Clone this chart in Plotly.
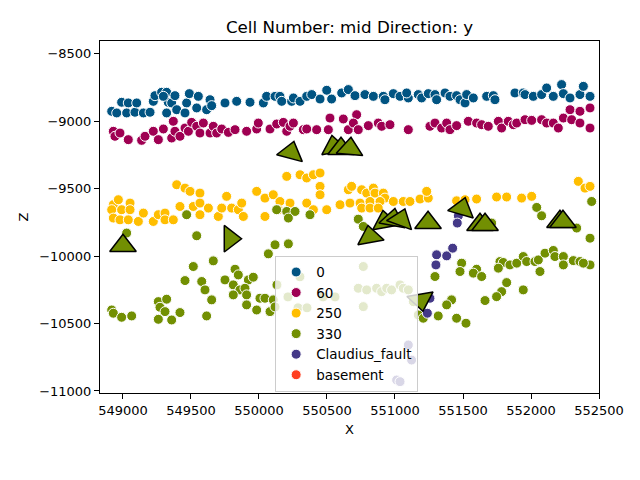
import plotly.graph_objects as go

# ---------------- data ----------------
s0_x = [548917,548990,548954,549039,549027,549088,549101,549150,549199,549223,549235,549284,549321,549333,549297,
        549358,549382,549321,549395,549468,549488,549456,549554,549542,549615,549640,549652,549750,549836,549934,
        550032,550056,550118,550154,550167,550240,550253,550302,550351,550388,550449,550498,550534,550608,550657,
        550706,550779,550841,550914,550926,550988,551037,551098,551086,551171,551196,551245,551294,551306,551368,
        551404,551453,551478,551515,551527,551576,551674,551723,551735,551882,551943,551956,552017,552078,552115,
        552164,552225,552238,552287,552360,552385,552434]
s0_z = [-8928,-8861,-8940,-8866,-8940,-8935,-8866,-8940,-8935,-8854,-8812,-8787,-8787,-8861,-8817,
        -8866,-8812,-8940,-8916,-8866,-8797,-8940,-8817,-8903,-8916,-8842,-8886,-8866,-8854,-8861,
        -8866,-8817,-8817,-8817,-8854,-8854,-8829,-8854,-8817,-8804,-8837,-8772,-8837,-8792,-8767,
        -8812,-8804,-8817,-8817,-8842,-8797,-8817,-8829,-8792,-8804,-8829,-8797,-8804,-8842,-8792,
        -8817,-8812,-8842,-8866,-8804,-8829,-8817,-8812,-8842,-8792,-8792,-8804,-8817,-8804,-8755,
        -8817,-8730,-8797,-8829,-8804,-8743,-8817]

s60_x = [548929,548941,548978,549039,549137,549162,549223,549260,549297,549358,549370,549382,549419,549456,549481,
         549505,549542,549566,549591,549640,549664,549689,549726,549775,549824,549909,549983,549995,550081,550130,
         550179,550204,550228,550253,550326,550351,550424,550510,550522,550620,550657,
         550718,550694,550730,550804,550877,550902,550963,551098,551257,551294,551343,551380,551404,551453,551539,
         551600,551637,551686,551760,551784,551833,551870,551895,551956,552005,552078,552115,552164,552201,552238,
         552287,552299,552360,552360,552434,552434]
s60_z = [-9076,-9113,-9089,-9138,-9143,-9113,-9076,-9138,-9059,-9126,-9002,-9076,-9113,-9052,-9076,
         -9010,-9039,-9089,-9015,-9089,-9039,-9089,-9059,-9084,-9064,-9076,-9059,-9015,-9059,-9022,
         -9010,-9076,-9039,-9015,-9064,-9059,-9064,-9064,-8978,-8985,-9064,
         -8953,-9015,-9064,-9034,-9015,-9039,-9027,-9064,-9039,-9015,-9052,-9015,-9064,-9034,-9002,
         -9015,-9027,-9039,-9002,-9052,-9002,-9027,-9015,-8990,-8995,-8990,-9015,-9015,-9052,-8978,
         -8916,-8990,-8928,-9015,-8903,-9052]

s250_x = [548929,548966,549052,548917,548990,549052,548929,548978,549039,549113,549150,549223,549260,549309,549309,
          549370,549395,549456,549493,549566,549419,549517,549566,549566,549628,549701,549726,549762,549799,549848,
          549873,549885,549983,550044,550044,550105,550154,550142,550204,550302,550351,550400,550449,550449,550449,
          550228,550351,550400,550498,550596,550657,
          550681,550755,550792,550841,550853,550914,550926,550669,550743,550816,550890,550755,550816,550877,550988,
          551061,551110,551184,551245,551233,551453,551515,551600,551747,551821,551931,552005,552348,552397,552434]
s250_z = [-9620,-9583,-9608,-9657,-9657,-9657,-9719,-9732,-9732,-9744,-9682,-9744,-9694,-9682,-9732,
          -9732,-9472,-9497,-9521,-9534,-9633,-9633,-9608,-9694,-9645,-9707,-9645,-9558,-9645,-9657,
          -9608,-9707,-9521,-9571,-9707,-9546,-9596,-9657,-9410,-9398,-9422,-9398,-9385,-9484,-9546,
          -9608,-9608,-9657,-9657,-9620,-9509,
          -9484,-9509,-9534,-9497,-9534,-9534,-9571,-9608,-9608,-9596,-9596,-9645,-9645,-9645,-9596,
          -9596,-9596,-9578,-9571,-9521,-9591,-9583,-9578,-9563,-9563,-9571,-9558,-9447,-9497,-9484]

s330_x = [549468,550130,550204,550265,550216,550375,549027,549542,
          550730,550767,552042,552078,552336,552446,552434,551711,
          550118,550216,550069,549517,549664,549456,549579,549603,549652,549615,549750,549824,549848,549922,
          549958,549811,549860,549897,549909,549811,549909,549983,550007,550044,550081,550105,549260,549321,
          549272,549309,549419,549260,549358,548917,548929,548990,549064,
          551490,551600,551576,551637,551478,551294,551772,551796,551760,551845,551895,551943,551968,552029,
          552054,552066,552103,552164,552176,552238,552238,552311,552360,552434,552385,551821,551784,551747,
          551662,551943,551416,551380,551318,551453,551522,
          550767,550730,550792,550865,550902,550939,550975,551037,551061,551098,550767,551135,551171,551208,
          550132,550301,550213,550287,550353,550471,550559,550118]
s330_z = [-9694,-9657,-9670,-9670,-9719,-9694,-9830,-9850,
          -9727,-9781,-9640,-9702,-9793,-9596,-9868,-9756,
          -9917,-9910,-9984,-10078,-10036,-10182,-10189,-10251,-10325,-10444,-10177,-10098,-10140,-10177,
          -10157,-10214,-10251,-10239,-10288,-10288,-10362,-10400,-10313,-10313,-10412,-10325,-10338,-10320,
          -10380,-10412,-10419,-10469,-10474,-10400,-10424,-10454,-10444,
          -10053,-10098,-10127,-10152,-10115,-10152,-10041,-10048,-10090,-10066,-10053,-10004,-10041,-10041,
          -10029,-10115,-9979,-9959,-10004,-10004,-10066,-10034,-10041,-10066,-10053,-10197,-10264,-10301,
          -10330,-10251,-10325,-10362,-10444,-10461,-10498,
          -10078,-10239,-10251,-10239,-10264,-10239,-10251,-10214,-10239,-10251,-10375,-10338,-10437,-10461,
          -10214,-10154,-10303,-10384,-10384,-10303,-10303,-10377]

fault_x = [551466,551458,551306,551380,551424,551301,551257,551238,551098,551122,551012,551037]
fault_z = [-9702,-9756,-9991,-9999,-9942,-10066,-10313,-10424,-10659,-10771,-10919,-10931]

# orientations (surface 330): position and pole angle (deg, clockwise from up)
ori_x = [549000,550235,550551,550603,550669,549787,551493,550926,550985,551044,550816,551243,551625,551662,552213,552235,551191]
ori_z = [-9924,-9234,-9190,-9205,-9205,-9872,-9650,-9746,-9731,-9731,-9857,-9754,-9768,-9768,-9746,-9746,-10325]
ori_angle = [0,15,-10,0,5,90,16,-10,10,20,-10,0,0,0,0,0,170]

series = [
    ("0", s0_x, s0_z, "#015482"),
    ("60", s60_x, s60_z, "#9f0052"),
    ("250", s250_x, s250_z, "#ffbe00"),
    ("330", s330_x, s330_z, "#728f02"),
    ("Claudius_fault", fault_x, fault_z, "#443988"),
    ("basement", [None], [None], "#ff3f20"),
]

x_ticks = [549000, 549500, 550000, 550500, 551000, 551500, 552000, 552500]
y_ticks = [-11000, -10500, -10000, -9500, -9000, -8500]

# ---------------- figure ----------------
fig = go.Figure()
for name, xs, zs, col in series:
    fig.add_trace(go.Scatter(
        x=xs, y=zs, mode="markers", name=name,
        marker=dict(size=10, color=col, line=dict(color="white", width=1)),
    ))

fig.add_trace(go.Scatter(
    x=ori_x, y=ori_z, mode="markers", showlegend=False,
    marker=dict(symbol="triangle-up", size=23, angle=ori_angle, color="#728f02",
                line=dict(color="black", width=1.5)),
))

font = "DejaVu Sans, sans-serif"
fig.update_layout(
    width=640, height=480,
    margin=dict(l=100, r=41, t=41, b=87),
    paper_bgcolor="white", plot_bgcolor="white",
    font=dict(family=font, size=13, color="black"),
    title=dict(text="Cell Number: mid Direction: y", x=0.5, xref="paper",
               y=1 - 27 / 480, yref="container", xanchor="center", yanchor="middle",
               font=dict(size=16.7, family=font)),
    legend=dict(x=0.351, y=0.39, xanchor="left", yanchor="top",
                bgcolor="rgba(255,255,255,0.8)", bordercolor="#cccccc", borderwidth=1,
                font=dict(size=13.5, family=font)),
    showlegend=True,
)
fig.update_xaxes(
    range=[548831, 552500], showgrid=False, zeroline=False,
    showline=True, linecolor="black", linewidth=1, mirror=True,
    ticks="outside", ticklen=5, tickcolor="black",
    tickvals=x_ticks, ticktext=[str(v) for v in x_ticks],
    title=dict(text="X", standoff=8, font=dict(size=13)),
)
fig.update_yaxes(
    range=[-11015, -8407], showgrid=False, zeroline=False,
    showline=True, linecolor="black", linewidth=1, mirror=True,
    ticks="outside", ticklen=5, tickcolor="black",
    tickvals=y_ticks, ticktext=["\u2212" + str(abs(v)) for v in y_ticks],
    title=dict(text="Z", standoff=7, font=dict(size=13)),
)

fig.write_html("out.html", config={"displayModeBar": False},
               post_script="document.body.style.margin='0';")
